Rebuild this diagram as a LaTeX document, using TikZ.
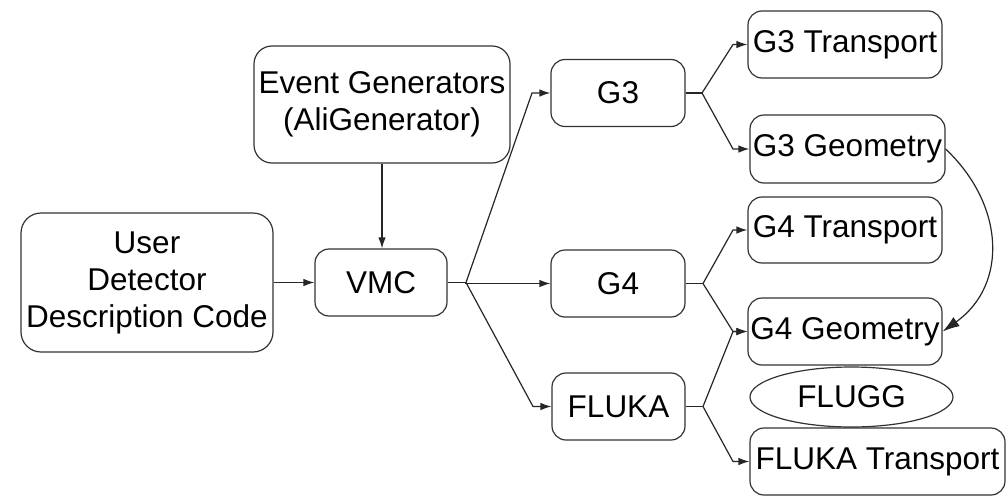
\documentclass[tikz,border=0pt]{standalone}
\usepackage{fontspec}
\setmainfont{Liberation Sans}
\usetikzlibrary{arrows.meta,shapes.geometric}
\begin{document}
\begin{tikzpicture}[x=1pt,y=-1pt,
  box/.style={draw=black!80,line width=1.2pt,rounded corners=14pt,inner sep=0pt,align=center,
    font=\fontsize{31.5}{37}\selectfont},
  oval/.style={draw=black!80,line width=1.2pt,ellipse,inner sep=0pt,font=\fontsize{31.5}{37}\selectfont},
  conn/.style={draw=black!85,line width=1.2pt},
  arr/.style={conn,-{Latex[length=11pt,width=7.5pt]}},
  bigarr/.style={conn,-{Latex[length=17pt,width=11pt]}}]
\useasboundingbox (0,0) rectangle (1007,498);
\fill[white] (0,0) rectangle (1007,498);
% nodes
\node[box,minimum width=252pt,minimum height=139pt,rounded corners=20pt] (user) at (147,282.5) {User\\Detector\\Description Code};
\node[box,minimum width=132pt,minimum height=67pt] (vmc) at (381,282.5) {VMC};
\node[box,minimum width=256pt,minimum height=117pt,rounded corners=18pt] (evg) at (382,104.5) {Event Generators\\(AliGenerator)};
\node[box,minimum width=134pt,minimum height=67pt] (g3) at (618,93) {G3};
\node[box,minimum width=134pt,minimum height=67pt] (g4) at (618,283.5) {G4};
\node[box,minimum width=133pt,minimum height=67pt] (fluka) at (618.5,406.5) {FLUKA};
\node[box,minimum width=194pt,minimum height=67pt] (g3t) at (845,44.5) {G3 Transport};
\node[box,minimum width=195pt,minimum height=68pt] (g3g) at (847.5,149) {G3 Geometry};
\node[box,minimum width=194pt,minimum height=66pt] (g4t) at (845,230) {G4 Transport};
\node[box,minimum width=194pt,minimum height=67pt] (g4g) at (845,331.5) {G4 Geometry};
\node[oval,minimum width=203pt,minimum height=60pt] (flugg) at (851.5,397) {FLUGG};
\node[box,minimum width=255pt,minimum height=67pt] (flukat) at (877.5,461.5) {FLUKA Transport};
% fork coordinates
\coordinate (vb) at (466,282.5);
\coordinate (v3) at (532,93);
\coordinate (vf) at (533,406.5);
\coordinate (b3) at (702,93);
\coordinate (b3t) at (733,44.5);
\coordinate (b3g) at (733,149);
\coordinate (b4) at (703,283.5);
\coordinate (b4t) at (733,230);
\coordinate (b4g) at (733,331.5);
\coordinate (bf) at (703,406.5);
\coordinate (bfg) at (733,331.5);
\coordinate (bft) at (733,461.5);
% connectors
\draw[arr] (user.east) -- (vmc.west);
\draw[arr] (evg.south) -- (evg.south |- vmc.north);
\draw[conn] (vmc.east) -- (vb);
\draw[arr] (vb) -- (v3) -- (g3.west);
\draw[arr] (vb) -- (vb |- g4.west) -- (g4.west);
\draw[arr] (vb) -- (vf) -- (fluka.west);
\draw[conn] (g3.east) -- (b3);
\draw[arr] (b3) -- (b3t) -- (g3t.west);
\draw[arr] (b3) -- (b3g) -- (g3g.west);
\draw[conn] (g4.east) -- (b4);
\draw[arr] (b4) -- (b4t) -- (g4t.west);
\draw[arr] (b4) -- (b4g) -- (g4g.west);
\draw[conn] (fluka.east) -- (bf);
\draw[arr] (bf) -- (bfg) -- (g4g.west);
\draw[arr] (bf) -- (bft) -- (flukat.west);
\draw[bigarr] (g3g.east) .. controls (1005,205) and (1008,285) .. (g4g.east);
\end{tikzpicture}
\end{document}
